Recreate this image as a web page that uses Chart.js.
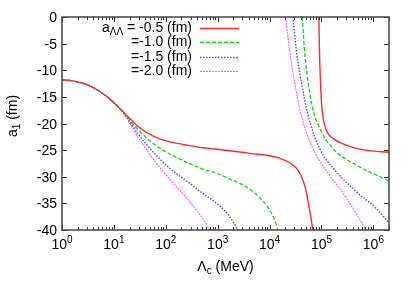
<!DOCTYPE html>
<html>
<head>
<meta charset="utf-8">
<script src="https://cdn.jsdelivr.net/npm/chart.js@4"></script>
<style>
  html, body { margin: 0; padding: 0; background: #fff; }
  #wrap { width: 415px; height: 291px; }
</style>
</head>
<body>
<div id="wrap"><canvas id="chart" width="415" height="291"></canvas></div>
<script>
// shared part of all four curves (Lambda_c in MeV, a1 in fm)
const commonX = [1, 1.4, 2, 3.2, 5, 6.8, 10.5];
const commonA1 = [-11.8, -11.9, -12.2, -12.8, -13.8, -14.7, -16.3];

// a_LL = -0.5 fm
const redLowX = [16.2, 29.5, 61.7, 129, 269, 562, 871, 4170, 15500, 28200, 35500, 43700, 50100, 55000, 60300, 64600, 67600];
const redLowA1 = [-18.1, -20.6, -22.5, -23.5, -24.1, -24.6, -24.8, -25.6, -26.5, -27.8, -28.8, -30.6, -32.5, -34.5, -36.8, -38.5, -40];
const redHighX = [89100, 91200, 95500, 100000, 107000, 115000, 132000, 166000, 288000, 708000, 2000000];
const redHighA1 = [0, -5.9, -12, -16, -18.8, -20.3, -21.8, -22.8, -24.0, -25.0, -25.4];

// a_LL = -1.0 fm
const greenLowX = [16.2, 29.5, 61.7, 129, 269, 562, 871, 1700, 3160, 4790, 7080, 10000, 12600, 14500];
const greenLowA1 = [-18.2, -21.2, -24.0, -25.9, -27.4, -28.7, -29.2, -30.4, -31.6, -32.8, -34.3, -36.2, -38.2, -40];
const greenHighX = [42700, 46800, 55000, 67600, 107000, 191000, 468000, 2000000];
const greenHighA1 = [0, -5.9, -12.1, -17.1, -22.1, -25.3, -27.8, -30.8];

// a_LL = -1.5 fm
const blueLowX = [16.2, 29.5, 61.7, 129, 269, 562, 871, 1100, 1585, 2000, 2450];
const blueLowA1 = [-18.3, -22.0, -25.7, -28.7, -31.0, -33.4, -34.7, -35.5, -37.1, -38.5, -40];
const blueHighX = [28200, 32400, 40700, 55000, 91200, 191000, 468000, 1120000, 2000000];
const blueHighA1 = [0, -5.9, -12.1, -18.4, -24.6, -29.0, -32.8, -35.9, -38.7];

// a_LL = -2.0 fm
const magentaLowX = [16.2, 29.5, 61.7, 129, 269, 562, 708];
const magentaLowA1 = [-18.4, -22.6, -27.1, -30.8, -34.3, -38.4, -40];
const magentaHighX = [20400, 24000, 30200, 40700, 67600, 141000, 302000, 724000];
const magentaHighA1 = [0, -5.9, -12.1, -18.4, -24.6, -29.6, -34.0, -40];

const legendLabels = ['-0.5 (fm)', '-1.0 (fm)', '-1.5 (fm)', '-2.0 (fm)'];
const yTicks = [0, -5, -10, -15, -20, -25, -30, -35, -40];
const xDecades = [0, 1, 2, 3, 4, 5, 6];

const FONT = '"Liberation Sans", Arial, Helvetica, sans-serif';
const FS = 14;

function buildCurve(lowX, lowY, highX, highY) {
    let pts = [];
    for (let i = 0; i < commonX.length; i++) pts.push({x: commonX[i], y: commonA1[i]});
    for (let i = 0; i < lowX.length; i++) pts.push({x: lowX[i], y: lowY[i]});
    // break between the two branches (pole)
    pts.push({x: (lowX[lowX.length - 1] + highX[0]) / 2, y: null});
    for (let i = 0; i < highX.length; i++) pts.push({x: highX[i], y: highY[i]});
    return pts;
}

const styles = [
    {color: '#ff2a2a', dash: [], width: 1.4},
    {color: '#12d812', dash: [4, 2], width: 1.3},
    {color: '#4b4bff', dash: [1.5, 1.5], width: 1.4},
    {color: '#ff55ff', dash: [2, 1], width: 1.1}
];

const curves = [
    buildCurve(redLowX, redLowA1, redHighX, redHighA1),
    buildCurve(greenLowX, greenLowA1, greenHighX, greenHighA1),
    buildCurve(blueLowX, blueLowA1, blueHighX, blueHighA1),
    buildCurve(magentaLowX, magentaLowA1, magentaHighX, magentaHighA1)
];

function small() { return Math.round(FS * 0.7) + 'px ' + FONT; }
function big() { return FS + 'px ' + FONT; }

// text with a sub/superscript part, returns width
function drawScript(ctx, base, script, x, y, shift) {
    ctx.font = big();
    ctx.fillText(base, x, y);
    let w = ctx.measureText(base).width;
    ctx.font = small();
    ctx.fillText(script, x + w, y + shift);
    return w + ctx.measureText(script).width;
}

function scriptWidth(ctx, base, script, rest) {
    ctx.font = big();
    let w = ctx.measureText(base).width + ctx.measureText(rest || '').width;
    ctx.font = small();
    return w + ctx.measureText(script).width;
}

const framePlugin = {
    id: 'frame',
    afterDatasetsDraw(chart) {
        const ctx = chart.ctx;
        const area = chart.chartArea;
        const xs = chart.scales.x;
        const ys = chart.scales.y;
        ctx.save();
        ctx.strokeStyle = '#333';
        ctx.lineWidth = 1;

        // y ticks, left and right, inward
        yTicks.forEach(function(v) {
            let py = Math.round(ys.getPixelForValue(v)) + 0.5;
            ctx.beginPath();
            ctx.moveTo(area.left, py); ctx.lineTo(area.left + 5, py);
            ctx.moveTo(area.right, py); ctx.lineTo(area.right - 5, py);
            ctx.stroke();
        });
        // x ticks, major + minor, bottom and top
        xDecades.forEach(function(d) {
            for (let m = 1; m <= 9; m++) {
                let v = m * Math.pow(10, d);
                if (v > xs.max) break;
                let px = Math.round(xs.getPixelForValue(v)) + 0.5;
                let len = m === 1 ? 5 : 3;
                ctx.beginPath();
                ctx.moveTo(px, area.bottom); ctx.lineTo(px, area.bottom - len);
                ctx.moveTo(px, area.top); ctx.lineTo(px, area.top + len);
                ctx.stroke();
            }
        });

        // frame
        ctx.lineWidth = 1.5;
        ctx.strokeStyle = '#444';
        ctx.strokeRect(area.left, area.top, area.right - area.left, area.bottom - area.top);

        // tick labels
        ctx.fillStyle = '#000';
        ctx.textBaseline = 'alphabetic';
        ctx.font = big();
        ctx.textAlign = 'right';
        yTicks.forEach(function(v) {
            ctx.fillText(String(v), area.left - 5, ys.getPixelForValue(v) + 5);
        });
        ctx.textAlign = 'left';
        xDecades.forEach(function(d) {
            let px = xs.getPixelForValue(Math.pow(10, d));
            let w = scriptWidth(ctx, '10', String(d));
            drawScript(ctx, '10', String(d), px - w / 2, 249, -6);
        });

        // axis titles
        let cx = (area.left + area.right) / 2;
        let tw = scriptWidth(ctx, '\u039B', 'c', ' (MeV)');
        let w = drawScript(ctx, '\u039B', 'c', cx - tw / 2, 271, 3);
        ctx.font = big();
        ctx.fillText(' (MeV)', cx - tw / 2 + w, 271);

        ctx.save();
        ctx.translate(17, 116);
        ctx.rotate(-Math.PI / 2);
        let wa = scriptWidth(ctx, 'a', '1', ' (fm)');
        let w0 = drawScript(ctx, 'a', '1', -wa / 2, 0, 3);
        ctx.font = big();
        ctx.fillText(' (fm)', -wa / 2 + w0, 0);
        ctx.restore();

        // legend
        const textRight = 192;
        const rowY = [32, 46.2, 60.5, 74.8];
        for (let i = 0; i < legendLabels.length; i++) {
            ctx.font = big();
            ctx.textAlign = 'left';
            let label = i === 0 ? ' = ' + legendLabels[i] : '=' + legendLabels[i];
            let lw = ctx.measureText(label).width;
            ctx.fillText(label, textRight - lw, rowY[i]);
            if (i === 0) {
                let sw = scriptWidth(ctx, 'a', '\u039B\u039B');
                drawScript(ctx, 'a', '\u039B\u039B', textRight - lw - sw, rowY[i], 3);
            }
            let ly = Math.round(rowY[i] - 4) + 0.5;
            ctx.strokeStyle = styles[i].color;
            ctx.lineWidth = styles[i].width;
            ctx.setLineDash(styles[i].dash);
            ctx.beginPath();
            ctx.moveTo(200, ly);
            ctx.lineTo(239, ly);
            ctx.stroke();
            ctx.setLineDash([]);
        }
        ctx.restore();
    }
};

const ctx = document.getElementById('chart').getContext('2d');
const chart = new Chart(ctx, {
    type: 'line',
    data: {
        datasets: curves.map(function(pts, i) {
            return {
                data: pts,
                borderColor: styles[i].color,
                borderWidth: styles[i].width,
                borderDash: styles[i].dash,
                pointRadius: 0,
                fill: false,
                spanGaps: false,
                cubicInterpolationMode: 'monotone'
            };
        })
    },
    options: {
        responsive: false,
        animation: false,
        events: [],
        layout: { padding: { left: 62, right: 26, top: 17, bottom: 61 } },
        plugins: { legend: { display: false }, tooltip: { enabled: false } },
        scales: {
            x: { type: 'logarithmic', min: 1, max: 2000000, display: false },
            y: { type: 'linear', min: -40, max: 0, display: false }
        }
    },
    plugins: [framePlugin]
});
</script>
</body>
</html>
